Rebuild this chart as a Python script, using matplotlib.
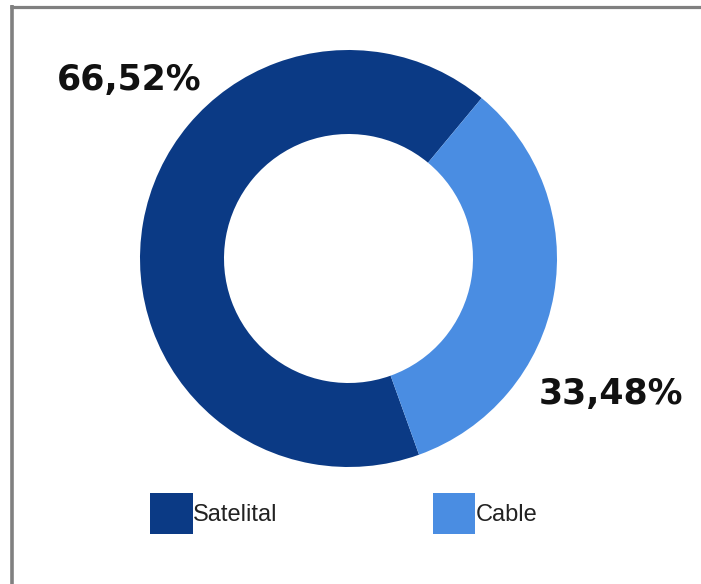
import matplotlib
matplotlib.use('Agg')
import matplotlib.pyplot as plt

# share of subscriptions by delivery type
labels = ['Satelital', 'Cable']
shares = [66.52, 33.48]
colors = ['#0B3A85', '#4A8DE2']

W, H = 701, 584
fig = plt.figure(figsize=(W / 100, H / 100), dpi=100)
ax = fig.add_axes([0, 0, 1, 1])

# pixel-like coordinates, y measured from the bottom
cx, cy = 348.5, H - 258.5
outer_r = 208.5
ring_w = 84

wedges, _ = ax.pie(shares, colors=colors, startangle=50.3, counterclock=True,
                   center=(cx, cy), radius=outer_r,
                   wedgeprops=dict(width=ring_w, linewidth=0))

ax.set_xlim(0, W)
ax.set_ylim(0, H)
ax.set_aspect('equal')
ax.axis('off')

# percentage labels, written with a decimal comma
pct = [f'{v:.2f}%'.replace('.', ',') for v in shares]
ax.text(129, H - 80, pct[0], fontsize=25, fontweight='bold', color='#111111',
        ha='center', va='center', family='DejaVu Sans')
ax.text(611, H - 394, pct[1], fontsize=25, fontweight='bold', color='#111111',
        ha='center', va='center', family='DejaVu Sans')

leg = ax.legend(wedges, labels, loc='upper left', bbox_to_anchor=(150, H - 493),
                bbox_transform=ax.transData, ncol=2, frameon=False,
                prop={'family': 'Liberation Sans', 'size': 17},
                handlelength=1.8, handleheight=2.3, handletextpad=0.0,
                columnspacing=6.6, borderpad=0, borderaxespad=0)
for t in leg.get_texts():
    t.set_color('#222222')

# grey frame along the top and left edges
ax.plot([11.5, 11.5], [0, H - 5], color='#808080', lw=2.6, solid_capstyle='butt')
ax.plot([10, W], [H - 6.5, H - 6.5], color='#808080', lw=2.3, solid_capstyle='butt')

fig.savefig('out.png', dpi=100, facecolor='white')
